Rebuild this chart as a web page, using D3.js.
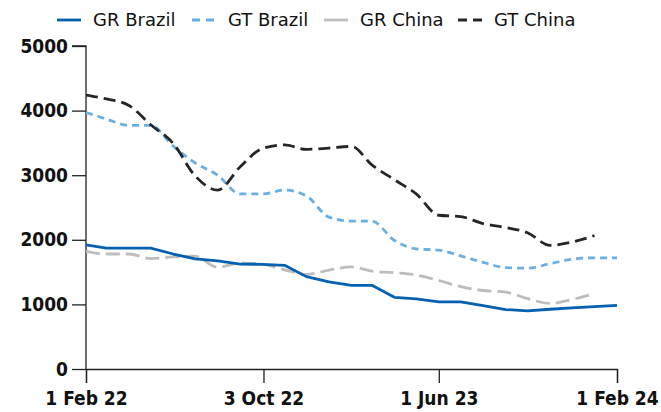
<!DOCTYPE html>
<html>
<head>
<meta charset="utf-8">
<script src="https://cdn.jsdelivr.net/npm/d3@7"></script>
<style>
  html, body { margin: 0; padding: 0; background: #fff; }
  svg { display: block; font-family: "DejaVu Sans Condensed", "DejaVu Sans", sans-serif; }
</style>
</head>
<body>
<svg id="chart" width="661" height="412"></svg>
<script>
const dates = ["2022-02-01","2022-03-01","2022-04-01","2022-05-01","2022-06-01","2022-07-01",
  "2022-08-01","2022-09-01","2022-10-01","2022-11-01","2022-12-01","2023-01-01","2023-02-01",
  "2023-03-01","2023-04-01","2023-05-01","2023-06-01","2023-07-01","2023-08-01","2023-09-01",
  "2023-10-01","2023-11-01","2023-12-01","2024-01-01","2024-02-01"];

const grBrazil = [1920,1870,1870,1870,1780,1705,1675,1625,1620,1605,1430,1350,1295,1295,1110,1085,1040,1040,980,920,900,925,945,965,985];
const gtBrazil = [3970,3870,3770,3770,3450,3190,3000,2710,2710,2770,2680,2350,2290,2290,1990,1860,1840,1750,1650,1570,1560,1630,1700,1720,1720];
const grChina  = [1820,1780,1780,1710,1735,1745,1575,1640,1625,1535,1465,1530,1580,1515,1490,1455,1370,1275,1215,1190,1090,1015,1075,1170];
const gtChina  = [4240,4180,4080,3780,3490,2990,2770,3130,3410,3470,3400,3420,3445,3160,2930,2710,2380,2360,2250,2190,2110,1915,1965,2065];

const seriesNames = ["GR Brazil","GT Brazil","GR China","GT China"];
const xTickDates = ["2022-02-01","2022-10-03","2023-06-01","2024-02-01"];
const xTickLabels = ["1 Feb 22","3 Oct 22","1 Jun 23","1 Feb 24"];
const yTicks = [0,1000,2000,3000,4000,5000];

const styles = {
  "GR Brazil": {color:"#0561b0", dash:null, legendDash:null, width:2.8, curve:d3.curveLinear},
  "GT Brazil": {color:"#6aafe3", dash:"7,5", legendDash:"8,6", width:2.8, curve:d3.curveMonotoneX},
  "GR China":  {color:"#bdbdbd", dash:"14,6", legendDash:null, width:2.8, curve:d3.curveMonotoneX},
  "GT China":  {color:"#262626", dash:"12,6", legendDash:"9,6", width:2.8, curve:d3.curveMonotoneX}
};
const valuesBy = {"GR Brazil":grBrazil,"GT Brazil":gtBrazil,"GR China":grChina,"GT China":gtChina};

const parse = d3.utcParse("%Y-%m-%d");
const margin = {left:86, right:44, top:46, bottom:43};
const W = 661, H = 412;
const svg = d3.select("#chart");
const FONT = '"DejaVu Sans Condensed", "DejaVu Sans", sans-serif';

const x = d3.scaleUtc()
  .domain([parse(dates[0]), parse(dates[dates.length-1])])
  .range([margin.left, W - margin.right]);
const y = d3.scaleLinear().domain([0,5000]).range([H - margin.bottom, margin.top]);

// axes
const xAxis = d3.axisBottom(x)
  .tickValues(xTickDates.map(parse))
  .tickFormat((d,i) => xTickLabels[i])
  .tickSize(14).tickPadding(9);
const gx = svg.append("g").attr("transform", `translate(0,${y(0)})`).call(xAxis);
gx.select(".domain").attr("stroke","#222").attr("stroke-width",1.3);
gx.selectAll(".tick line").attr("stroke","#222").attr("stroke-width",1.3);
gx.selectAll(".tick text").attr("fill","#111").attr("font-size","19px").attr("font-weight","bold")
  .attr("font-family", FONT);

const yAxis = d3.axisLeft(y).tickValues(yTicks).tickFormat(d3.format("d")).tickSize(14).tickPadding(4);
const gy = svg.append("g").attr("transform", `translate(${margin.left},0)`).call(yAxis);
gy.select(".domain").attr("stroke","#222").attr("stroke-width",1.3).attr("d", `M-14,${y(5000)}H0V${y(0)}`);
gy.selectAll(".tick line").attr("stroke","#222").attr("stroke-width",1.3);
gy.selectAll(".tick text").attr("fill","#111").attr("font-size","19px").attr("font-weight","bold")
  .attr("font-family", FONT);

// lines
const drawOrder = ["GR China","GR Brazil","GT Brazil","GT China"];
drawOrder.forEach(name => {
  const vals = valuesBy[name];
  const st = styles[name];
  const data = vals.map((v,i) => ({d: parse(dates[i]), v}));
  const line = d3.line().x(p => x(p.d)).y(p => y(p.v)).curve(st.curve);
  svg.append("path").datum(data)
    .attr("d", line)
    .attr("fill","none")
    .attr("stroke", st.color)
    .attr("stroke-width", st.width)
    .attr("stroke-dasharray", st.dash)
    .attr("stroke-linejoin","round");
});

// legend
const legendX = [57, 192, 324, 458];
const lg = svg.append("g");
seriesNames.forEach((name,i) => {
  const st = styles[name];
  const g = lg.append("g").attr("transform", `translate(${legendX[i]},20)`);
  g.append("line").attr("x1",0).attr("x2",24).attr("y1",0).attr("y2",0)
    .attr("stroke", st.color).attr("stroke-width", 2.8)
    .attr("stroke-dasharray", st.legendDash);
  g.append("text").attr("x",36).attr("y",0).attr("dy","0.35em")
    .attr("font-size","18px").attr("fill","#111")
    .attr("font-family",'"DejaVu Sans", sans-serif').text(name);
});
</script>
</body>
</html>
